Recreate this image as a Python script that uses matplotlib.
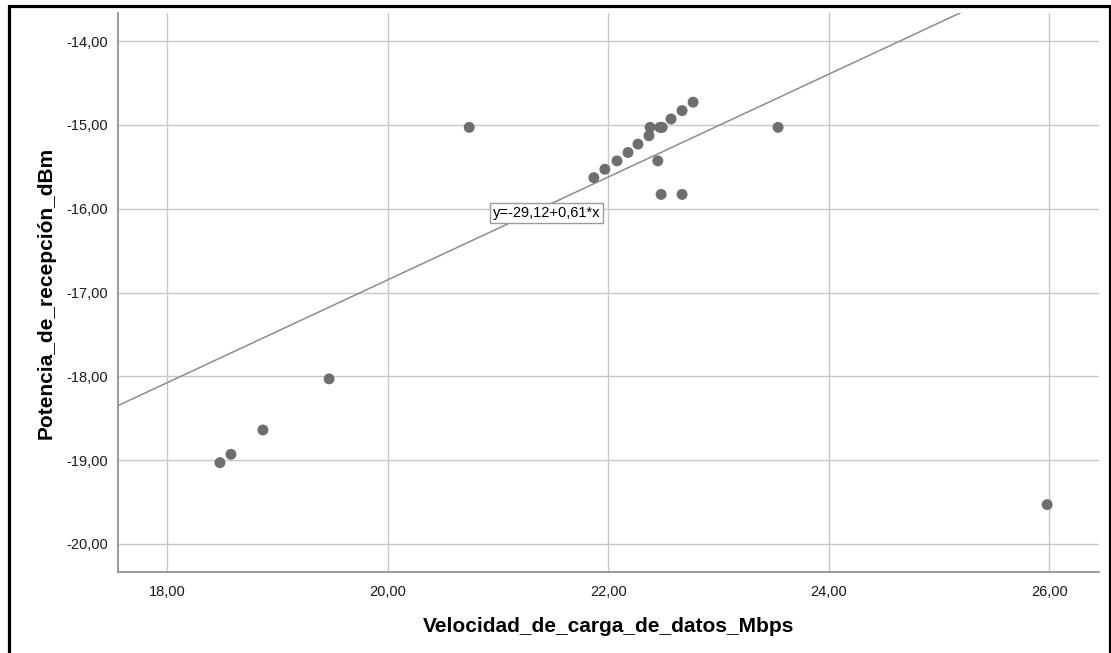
import matplotlib
matplotlib.use("Agg")
import matplotlib.pyplot as plt
from matplotlib.patches import Rectangle
import numpy as np

plt.rcParams['font.family'] = ['Liberation Sans', 'DejaVu Sans']

# data
velocidad = [18.48, 18.58, 18.87, 19.47, 20.74,
             21.87, 21.97, 22.08, 22.18, 22.27, 22.37, 22.38, 22.47, 22.49,
             22.57, 22.67, 22.77, 22.45, 22.48, 22.67, 23.54, 25.98]
potencia = [-19.03, -18.93, -18.64, -18.03, -15.03,
            -15.63, -15.53, -15.43, -15.33, -15.23, -15.13, -15.03, -15.03, -15.03,
            -14.93, -14.83, -14.73, -15.43, -15.83, -15.83, -15.03, -19.53]

fit_intercept = -29.12
fit_slope = 0.6135
fit_label = "y=-29,12+0,61*x"

x_ticks = [18, 20, 22, 24, 26]
y_ticks = [-20, -19, -18, -17, -16, -15, -14]


def coma(v):
    return ("%.2f" % v).replace(".", ",")


W, H = 1111, 653
fig = plt.figure(figsize=(W / 100, H / 100), dpi=100)
ax = fig.add_axes([118 / W, 1 - 572 / H, (1099 - 118) / W, (572 - 13) / H])

ax.set_xlim(17.556, 26.45)
ax.set_ylim(-20.334, -13.666)

ax.grid(True, color="#c8c8c8", linewidth=1.0)
ax.set_axisbelow(True)
for s in ["top", "right"]:
    ax.spines[s].set_visible(False)
for s in ["left", "bottom"]:
    ax.spines[s].set_color("#8a8a8a")
    ax.spines[s].set_linewidth(1.2)

ax.set_xticks(x_ticks)
ax.set_yticks(y_ticks)
ax.set_xticklabels([coma(v) for v in x_ticks])
ax.set_yticklabels([coma(v) for v in y_ticks])
ax.tick_params(axis="both", length=0, labelsize=10.5, colors="#1a1a1a")
ax.tick_params(axis="x", pad=9)
ax.tick_params(axis="y", pad=7)

# regression line
xl = np.array(ax.get_xlim())
ax.plot(xl, fit_intercept + fit_slope * xl, color="#8c8c8c", linewidth=1.1, zorder=2)

ax.scatter(velocidad, potencia, s=62, color="#6e6e6e", edgecolors="none", zorder=3)

ax.text(21.44, -16.05, fit_label, fontsize=10.5, ha="center", va="center", zorder=4,
        bbox=dict(boxstyle="square,pad=0.2", facecolor="white", edgecolor="#9a9a9a", linewidth=1))

ax.set_xlabel("Velocidad_de_carga_de_datos_Mbps", fontsize=15, fontweight="bold")
ax.set_ylabel("Potencia_de_recepción_dBm", fontsize=15, fontweight="bold")
ax.xaxis.set_label_coords(0.5, -0.08)
ax.yaxis.set_label_coords(-0.064, 0.5)

# outer black frame
fig.patches.append(Rectangle((8.5 / W, -0.05), (1110 - 8.5) / W, 1 - 5.5 / H + 0.05,
                             transform=fig.transFigure, fill=False,
                             edgecolor="black", linewidth=2.3))

fig.savefig("out.png", dpi=100)
